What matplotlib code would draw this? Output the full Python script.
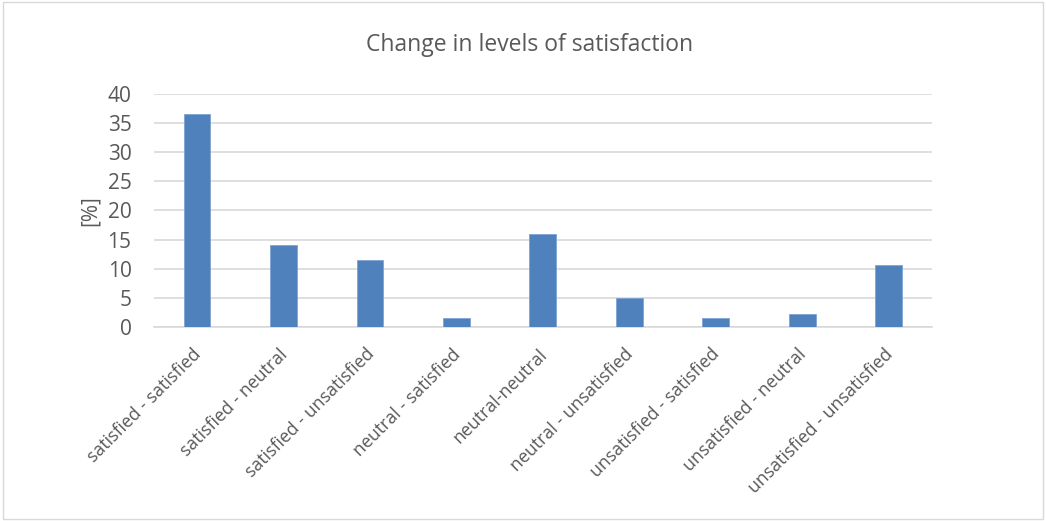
import matplotlib.pyplot as plt
import matplotlib.patches as mpatches
import matplotlib.transforms as mtransforms
import numpy as np

plt.rcParams['font.family'] = ['Open Sans', 'DejaVu Sans']

kategorie = ["satisfied - satisfied", "satisfied - neutral", "satisfied - unsatisfied",
             "neutral - satisfied", "neutral-neutral", "neutral - unsatisfied",
             "unsatisfied - satisfied", "unsatisfied - neutral", "unsatisfied - unsatisfied"]
wartosci = [36.6, 14.0, 11.5, 1.6, 16.0, 5.0, 1.5, 2.3, 10.6]
yticki = [0, 5, 10, 15, 20, 25, 30, 35, 40]

szary = "#595959"

fig = plt.figure(figsize=(10.46, 5.21), dpi=100)
ax = fig.add_axes([0.147, 0.372, 0.744, 0.448])

xs = np.arange(len(kategorie))
ax.bar(xs, wartosci, width=0.31, color="#4f81bd", edgecolor="#7ea3d3", linewidth=0.6, zorder=3)

ax.set_xlim(-0.5, len(kategorie) - 0.5)
ax.set_ylim(0, 40)
ax.set_yticks(yticki)
ax.grid(axis="y", color="#d9d9d9", linewidth=1.2, zorder=0)
for s in ["top", "right", "left"]:
    ax.spines[s].set_visible(False)
ax.spines["bottom"].set_color("#d9d9d9")
ax.spines["bottom"].set_linewidth(1.2)
ax.tick_params(axis="both", length=0, colors=szary)
ax.tick_params(axis="y", pad=16, labelsize=15)
ax.set_xticks(xs)
ax.set_xticklabels(kategorie, rotation=45, ha="right", rotation_mode="anchor",
                   fontsize=12.8, color=szary)
ax.tick_params(axis="x", pad=13)
przesun = mtransforms.ScaledTranslation(-5 / 100, 0, fig.dpi_scale_trans)
for lab in ax.get_xticklabels():
    lab.set_transform(lab.get_transform() + przesun)
for lab in ax.get_yticklabels():
    lab.set_color(szary)

ax.set_ylabel("[%]", fontsize=15, color=szary, labelpad=5)
fig.text(530 / 1046, 1 - 45 / 521, "Change in levels of satisfaction",
         ha="center", va="center", fontsize=16.5, color=szary)

fig.patches.append(mpatches.Rectangle((0.003, 0.003), 0.994, 0.994, transform=fig.transFigure,
                                      fill=False, edgecolor="#d9d9d9", linewidth=1))

fig.savefig("out.png", dpi=100)
